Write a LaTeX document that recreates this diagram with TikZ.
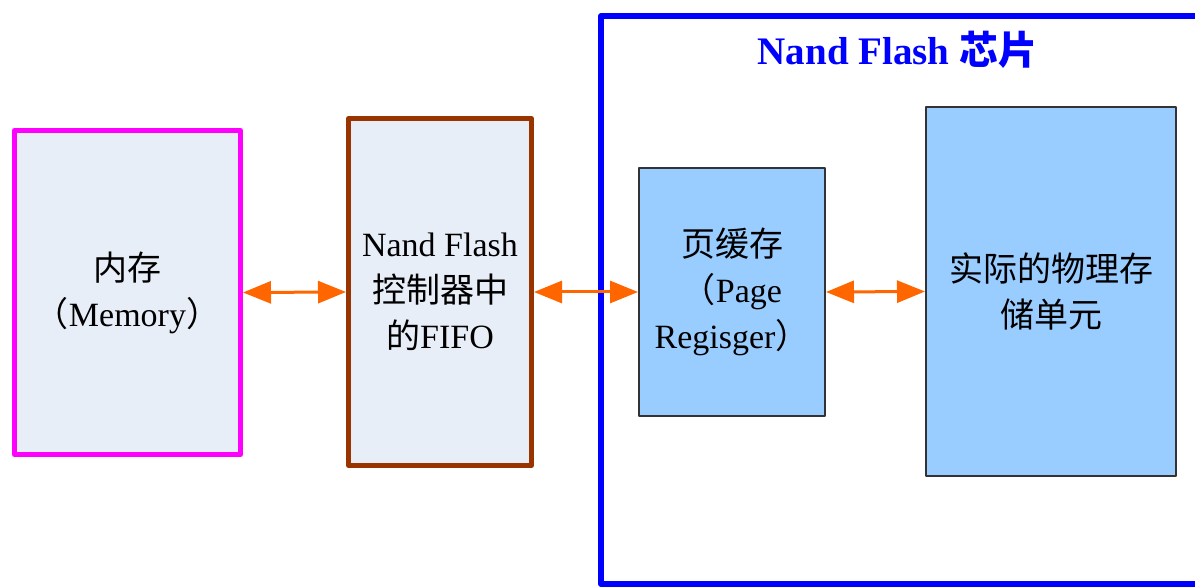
\documentclass[tikz,border=0pt]{standalone}
\usepackage{fontspec}
\setmainfont{Liberation Serif}
\newfontfamily\cjk{Noto Sans CJK SC}
\usetikzlibrary{arrows.meta}
\definecolor{memline}{RGB}{255,0,255}
\definecolor{fifoline}{RGB}{153,51,0}
\definecolor{lightfill}{RGB}{232,238,248}
\definecolor{cellfill}{RGB}{153,204,255}
\definecolor{chipblue}{RGB}{0,0,255}
\definecolor{arrorange}{RGB}{255,102,0}
\tikzset{
  boxtext/.style={align=center, font=\fontsize{17}{23}\selectfont, inner sep=0pt, line join=round},
  membox/.style={boxtext, draw=memline, fill=lightfill, line width=2.5pt},
  fifobox/.style={boxtext, draw=fifoline, fill=lightfill, line width=2.5pt},
  cellbox/.style={boxtext, draw=black!80, fill=cellfill, line width=1pt},
  chipbox/.style={draw=chipblue, line width=3pt, inner sep=0pt, line join=round},
  biarrow/.style={draw=arrorange, line width=1.5pt, {Triangle[length=14pt,width=11pt]}-{Triangle[length=14pt,width=11pt]}},
  titletext/.style={text=chipblue, font=\fontsize{19.5}{23}\selectfont\bfseries, inner sep=0pt}
}
\begin{document}
\begin{tikzpicture}[x=0.5pt,y=-0.5pt]
\useasboundingbox (0,0) rectangle (1195,588);
\node[chipbox, minimum width=302pt, minimum height=284pt] (chip) at (903,300) {};
\node[titletext] (title) at (897.5,50) {Nand Flash {\cjk 芯片}};
\node[membox, minimum width=113pt, minimum height=162pt] (mem) at (127.5,292.5)
  {{\cjk 内存}\\{\cjk （}Memory{\cjk ）}};
\node[fifobox, minimum width=91.5pt, minimum height=173.5pt] (fifo) at (440,292)
  {Nand Flash\\{\cjk 控制器中}\\{\cjk 的}FIFO};
\node[cellbox, minimum width=93pt, minimum height=124pt] (page) at (732,292)
  {{\cjk 页缓存}\\{\cjk （}Page\\Regisger{\cjk ）}};
\node[cellbox, minimum width=125pt, minimum height=184.5pt] (phys) at (1051,291.5)
  {{\cjk 实际的物理存}\\{\cjk 储单元}};
\draw[biarrow] (mem.east) -- (fifo.west);
\draw[biarrow] (fifo.east) -- (page.west);
\draw[biarrow] (page.east) -- (phys.west);
\end{tikzpicture}
\end{document}
